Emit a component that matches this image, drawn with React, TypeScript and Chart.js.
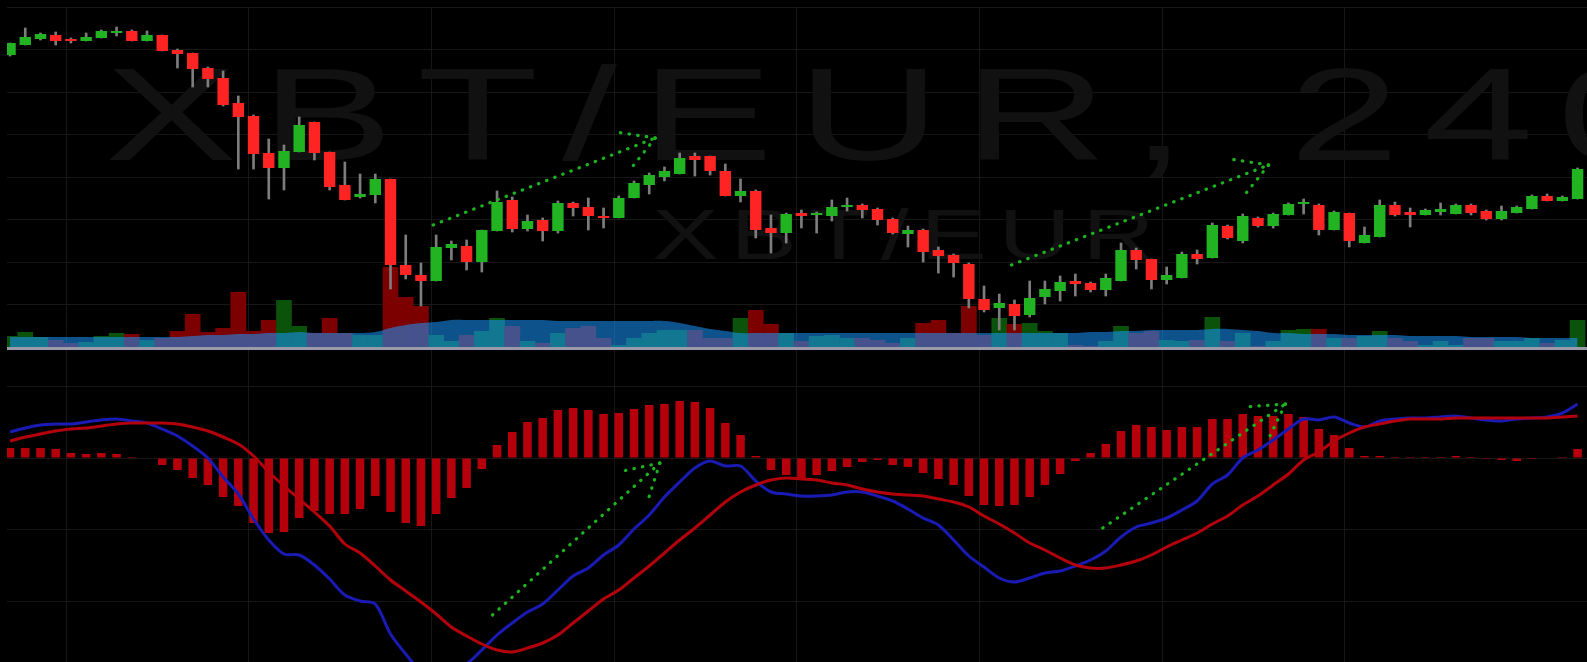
import React, { useEffect, useRef } from 'react';
import { Chart, registerables } from 'chart.js';

Chart.register(...registerables);

// ---- Candles (price units) ----
const opens = [
  345, 355, 361, 365, 361, 359, 362, 367, 369, 359,
  365, 350, 347, 332, 322, 297, 284, 247, 232, 248,
  278, 248, 215, 203, 205, 221, 135, 125, 119, 152,
  154, 138, 169, 200, 171, 180, 169, 197, 193, 184,
  182, 202, 215, 223, 226, 244, 244, 229, 204, 209,
  172, 167, 187, 185, 184, 193, 195, 191, 181, 166,
  170, 150, 145, 136, 101, 92, 96, 85, 103, 109,
  119, 117, 110, 119, 150, 141, 120, 122, 146, 142,
  174, 159, 182, 174, 185, 196, 195, 170, 187, 157,
  163, 195, 188, 185, 188, 186, 195, 189, 181, 187,
  191, 204, 199, 201,
];
const highs = [
  357, 372, 367, 368, 362, 367, 370, 373, 370, 369,
  365, 351, 347, 333, 329, 304, 285, 261, 255, 283,
  278, 248, 238, 226, 226, 221, 165, 137, 165, 159,
  160, 170, 209, 203, 185, 182, 199, 198, 202, 192,
  204, 219, 227, 233, 247, 247, 244, 236, 221, 210,
  185, 187, 190, 188, 200, 202, 196, 192, 182, 174,
  171, 153, 146, 137, 114, 106, 100, 119, 119, 124,
  126, 118, 126, 157, 152, 141, 133, 148, 150, 177,
  175, 186, 183, 187, 197, 201, 196, 189, 187, 173,
  200, 198, 192, 191, 197, 196, 196, 190, 194, 194,
  205, 206, 204, 232,
];
const lows = [
  344, 355, 360, 355, 357, 359, 362, 364, 359, 359,
  349, 332, 313, 313, 294, 231, 231, 201, 210, 248,
  240, 210, 200, 202, 197, 111, 121, 94, 119, 140,
  130, 128, 169, 168, 169, 159, 167, 184, 170, 172,
  182, 202, 206, 219, 226, 224, 225, 204, 198, 162,
  147, 157, 172, 167, 179, 189, 182, 175, 166, 153,
  138, 127, 123, 92, 88, 70, 70, 83, 96, 99,
  104, 108, 104, 119, 131, 111, 116, 122, 136, 142,
  161, 157, 173, 172, 185, 186, 165, 170, 153, 157,
  163, 184, 173, 185, 185, 186, 185, 180, 180, 187,
  191, 199, 199, 201,
];
const closes = [
  357, 363, 366, 359, 359, 363, 369, 369, 359, 365,
  349, 346, 331, 321, 295, 283, 246, 232, 249, 275,
  247, 213, 200, 206, 221, 135, 125, 119, 153, 156,
  138, 170, 198, 171, 179, 169, 197, 192, 184, 182,
  202, 217, 225, 229, 242, 240, 229, 204, 209, 170,
  167, 186, 184, 187, 193, 195, 190, 180, 167, 170,
  148, 144, 137, 101, 90, 97, 84, 102, 111, 118,
  116, 110, 122, 150, 140, 120, 125, 146, 141, 175,
  162, 184, 174, 186, 196, 198, 170, 188, 159, 165,
  195, 185, 185, 190, 191, 195, 187, 181, 189, 193,
  204, 199, 203, 231,
];

// ---- Volume ----
const volumes = [
  11, 15, 10, 7, 4, 5, 11, 14, 13, 7,
  9, 16, 33, 15, 19, 55, 16, 27, 47, 21,
  14, 29, 14, 12, 12, 80, 50, 41, 12, 6,
  12, 16, 29, 21, 6, 4, 14, 19, 21, 9,
  2, 9, 14, 17, 17, 17, 9, 9, 29, 37,
  23, 14, 6, 11, 12, 9, 9, 7, 4, 9,
  24, 27, 14, 41, 12, 29, 23, 24, 16, 14,
  2, 1, 6, 21, 14, 16, 7, 6, 7, 30,
  6, 14, 1, 6, 17, 18, 18, 9, 9, 11,
  16, 9, 6, 2, 6, 2, 9, 9, 6, 6,
  9, 4, 7, 27,
];
const volumeMA = [
  10, 10, 10, 10, 10, 10, 10, 10, 10, 10,
  10, 10, 11, 12, 12, 13, 13, 14, 14, 15,
  14, 14, 14, 14, 15, 19, 22, 24, 25, 27,
  27, 27, 27, 27, 27, 27, 26, 26, 26, 26,
  26, 26, 26, 26, 24, 21, 18, 16, 14, 14,
  14, 14, 14, 14, 14, 14, 14, 14, 14, 14,
  14, 14, 14, 14, 14, 14, 14, 14, 14, 14,
  14, 15, 15, 16, 16, 17, 17, 17, 17, 18,
  18, 17, 16, 14, 14, 13, 13, 13, 12, 12,
  12, 12, 11, 11, 11, 11, 10, 10, 10, 10,
  9, 9, 9, 9,
];

// ---- MACD ----
const macdLine = [
  26, 30, 33, 34, 34, 36, 38, 39, 37, 35,
  29, 22, 12, 0, -19, -36, -61, -82, -96, -97,
  -107, -121, -137, -143, -146, -176, -196, -213, -216, -212,
  -206, -192, -177, -165, -154, -146, -132, -118, -110, -97,
  -87, -71, -57, -39, -24, -10, -3, -8, -8, -23,
  -34, -36, -38, -38, -37, -34, -34, -38, -43, -51,
  -60, -67, -82, -98, -109, -120, -124, -120, -115, -113,
  -108, -102, -93, -79, -69, -65, -60, -52, -43, -26,
  -17, 0, 8, 18, 29, 39, 38, 41, 35, 31,
  37, 39, 40, 40, 41, 42, 40, 38, 37, 39,
  40, 41, 45, 54,
];
const signalLine = [
  17, 21, 24, 27, 29, 30, 32, 34, 35, 35,
  35, 34, 31, 27, 21, 14, 2, -14, -28, -41,
  -54, -68, -86, -95, -108, -122, -133, -144, -156, -169,
  -178, -186, -192, -194, -190, -185, -177, -165, -153, -141,
  -132, -120, -108, -95, -82, -70, -57, -44, -34, -27,
  -22, -20, -21, -22, -25, -27, -31, -34, -36, -37,
  -38, -41, -44, -49, -58, -66, -75, -85, -92, -100,
  -107, -110, -110, -107, -103, -97, -89, -82, -75, -66,
  -58, -47, -38, -27, -16, -2, 6, 17, 25, 31,
  34, 37, 39, 39, 39, 40, 40, 40, 40, 40,
  40, 40, 41, 42,
];
const histogram = [
  10, 10, 10, 9, 5, 4, 5, 4, 1, 0,
  -7, -12, -20, -27, -39, -48, -65, -75, -74, -60,
  -53, -56, -56, -51, -38, -54, -65, -68, -56, -40,
  -30, -11, 13, 26, 36, 40, 48, 50, 48, 44,
  45, 49, 53, 54, 57, 56, 50, 35, 23, 2,
  -12, -17, -20, -17, -13, -9, -4, -2, -7, -9,
  -15, -21, -27, -38, -47, -48, -47, -39, -27, -16,
  -3, 5, 14, 27, 33, 31, 28, 31, 31, 39,
  39, 44, 42, 42, 44, 41, 29, 23, 10, 2,
  2, 1, 1, 1, 1, 2, 1, -1, -2, -3,
  -1, 0, 1, 9,
];

// ---- Grid / ticks ----
const timeGridIdx = [3.7, 15.7, 27.7, 39.7, 51.7, 63.7, 75.7, 87.7];
const priceGrid = [393, 350.5, 308, 265.5, 223, 180.5, 138, 95.5];
const macdGrid = [71.5, 0, -71.5, -143];

// ---- Drawn trend arrows (data coordinates) ----
const arrowAxis = ['price', 'price', 'macd', 'macd'];
const arrowFromIdx = [27.8, 65.8, 31.7, 71.8];
const arrowFromVal = [175, 135, -157, -70];
const arrowToIdx = [42.4, 82.7, 42.7, 83.8];
const arrowToVal = [262, 235, -5, 54];

const watermarkMain = 'XBT/EUR, 240';
const watermarkSub = 'XBT/EUR';

// ---- Styles ----
const UP = '#22b322';
const DOWN = '#ff2424';
const WICK = '#7d7d7d';
const VOL_UP = '#0b520b';
const VOL_DOWN = '#7d0000';
const VOL_MA = 'rgba(25,150,255,0.55)';
const HIST = '#b5000c';
const MACD_COLOR = '#1a1ab4';
const SIGNAL_COLOR = '#b4000a';
const GRID = '#171717';
const WATERMARK = '#111111';
const SEPARATOR = '#9a9aaa';
const ARROW = '#1cb41c';

function drawStretched(ctx: CanvasRenderingContext2D, text: string, x: number, y: number, size: number, sx: number, spacing: number) {
  ctx.save();
  ctx.translate(x, y);
  ctx.scale(sx, 1);
  ctx.font = `${size}px "Liberation Sans", Arial, sans-serif`;
  (ctx as any).letterSpacing = `${spacing}px`;
  ctx.textBaseline = 'alphabetic';
  ctx.textAlign = 'left';
  ctx.fillText(text, 0, 0);
  ctx.restore();
}

const watermarkPlugin = {
  id: 'watermark',
  beforeDatasetsDraw(chart: any) {
    const { ctx, chartArea } = chart;
    ctx.save();
    ctx.beginPath();
    ctx.rect(chartArea.left, chartArea.top, chartArea.right - chartArea.left, chartArea.bottom - chartArea.top);
    ctx.clip();
    ctx.fillStyle = WATERMARK;
    drawStretched(ctx, watermarkMain, chartArea.left + 98, chartArea.top + 153, 132, 1.5, 16);
    drawStretched(ctx, watermarkSub, chartArea.left + 645, chartArea.top + 252, 70, 1.43, 8);
    ctx.restore();
  },
};

const overlayPlugin = {
  id: 'overlay',
  afterDatasetsDraw(chart: any) {
    const { ctx, chartArea, scales } = chart;
    ctx.save();
    // panel separator at volume baseline
    const y0 = scales.vol.getPixelForValue(0);
    ctx.fillStyle = SEPARATOR;
    ctx.fillRect(chartArea.left, y0, chartArea.right - chartArea.left, 3);

    // dotted arrows
    ctx.beginPath();
    ctx.rect(chartArea.left, chartArea.top, chartArea.right - chartArea.left, chartArea.bottom - chartArea.top);
    ctx.clip();
    ctx.strokeStyle = ARROW;
    ctx.lineWidth = 3.2;
    ctx.lineCap = 'round';
    ctx.setLineDash([0.5, 8.2]);
    for (let k = 0; k < arrowAxis.length; k++) {
      const ys = scales[arrowAxis[k]];
      const x1 = scales.x.getPixelForValue(arrowFromIdx[k]);
      const y1 = ys.getPixelForValue(arrowFromVal[k]);
      const x2 = scales.x.getPixelForValue(arrowToIdx[k]);
      const y2 = ys.getPixelForValue(arrowToVal[k]);
      ctx.beginPath();
      ctx.moveTo(x1, y1);
      ctx.lineTo(x2, y2);
      ctx.stroke();
      const back = Math.atan2(y1 - y2, x1 - x2);
      const len = 36;
      const spread = (30 * Math.PI) / 180;
      for (const s of [-1, 1]) {
        const a = back + s * spread;
        ctx.beginPath();
        ctx.moveTo(x2, y2);
        ctx.lineTo(x2 + Math.cos(a) * len, y2 + Math.sin(a) * len);
        ctx.stroke();
      }
    }
    ctx.restore();
  },
};

export default function App() {
  const canvasRef = useRef<HTMLCanvasElement | null>(null);

  useEffect(() => {
    document.body.style.margin = '0';
    document.body.style.background = '#000';
    const canvas = canvasRef.current;
    if (!canvas) return;

    const idx = opens.map((_, i) => i);
    const isUp = idx.map((i) => closes[i] >= opens[i]);

    const hiddenGrid = (values: number[]) => ({
      display: true,
      ticks: { display: false },
      grid: { color: GRID, lineWidth: 1, drawTicks: false, offset: false },
      border: { display: false },
      afterBuildTicks: (scale: any) => {
        scale.ticks = values.map((v) => ({ value: v }));
      },
    });

    const chart = new Chart(canvas, {
      type: 'bar',
      data: {
        datasets: [
          {
            type: 'bar',
            label: 'Body',
            data: idx.map((i) => ({ x: i, y: [opens[i], closes[i]] })) as any,
            backgroundColor: isUp.map((u) => (u ? UP : DOWN)),
            yAxisID: 'price',
            grouped: false,
            barPercentage: 0.75,
            categoryPercentage: 1,
            order: 0,
          } as any,
          {
            type: 'bar',
            label: 'Wick',
            data: idx.map((i) => ({ x: i, y: [lows[i], highs[i]] })) as any,
            backgroundColor: WICK,
            yAxisID: 'price',
            grouped: false,
            barThickness: 2,
            order: 1,
          } as any,
          {
            type: 'line',
            label: 'Signal',
            data: idx.map((i) => ({ x: i, y: signalLine[i] })),
            borderColor: SIGNAL_COLOR,
            borderWidth: 3,
            pointRadius: 0,
            tension: 0.3,
            fill: false,
            yAxisID: 'macd',
            order: 2,
          } as any,
          {
            type: 'line',
            label: 'MACD',
            data: idx.map((i) => ({ x: i, y: macdLine[i] })),
            borderColor: MACD_COLOR,
            borderWidth: 3,
            pointRadius: 0,
            tension: 0.3,
            fill: false,
            yAxisID: 'macd',
            order: 3,
          } as any,
          {
            type: 'bar',
            label: 'Histogram',
            data: idx.map((i) => ({ x: i, y: histogram[i] })),
            backgroundColor: HIST,
            yAxisID: 'macd',
            grouped: false,
            barPercentage: 0.56,
            categoryPercentage: 1,
            order: 4,
          } as any,
          {
            type: 'line',
            label: 'Volume MA',
            data: idx.map((i) => ({ x: i, y: volumeMA[i] })),
            borderWidth: 0,
            borderColor: 'rgba(0,0,0,0)',
            backgroundColor: VOL_MA,
            fill: 'origin',
            pointRadius: 0,
            tension: 0.4,
            yAxisID: 'vol',
            order: 5,
          } as any,
          {
            type: 'bar',
            label: 'Volume',
            data: idx.map((i) => ({ x: i, y: volumes[i] })),
            backgroundColor: isUp.map((u) => (u ? VOL_UP : VOL_DOWN)),
            yAxisID: 'vol',
            grouped: false,
            barPercentage: 1.03,
            categoryPercentage: 1,
            order: 6,
          } as any,
        ],
      },
      options: {
        responsive: false,
        maintainAspectRatio: false,
        animation: false,
        events: [],
        layout: { padding: { left: 7, top: 7, right: 0, bottom: 0 } },
        plugins: {
          legend: { display: false },
          tooltip: { enabled: false },
        },
        scales: {
          x: {
            type: 'linear',
            min: -0.2,
            max: 103.62,
            offset: false,
            ...hiddenGrid(timeGridIdx),
          } as any,
          price: {
            type: 'linear',
            position: 'left',
            min: -262,
            max: 393,
            ...hiddenGrid(priceGrid),
          } as any,
          vol: {
            type: 'linear',
            position: 'left',
            min: -315,
            max: 340,
            display: false,
          },
          macd: {
            type: 'linear',
            position: 'left',
            min: -204,
            max: 451,
            ...hiddenGrid(macdGrid),
          } as any,
        },
      },
      plugins: [watermarkPlugin, overlayPlugin],
    });

    return () => {
      chart.destroy();
    };
  }, []);

  return (
    <div style={{ width: 1587, height: 662, background: '#000', overflow: 'hidden' }}>
      <canvas ref={canvasRef} width={1587} height={662} style={{ display: 'block', background: '#000' }} />
    </div>
  );
}
